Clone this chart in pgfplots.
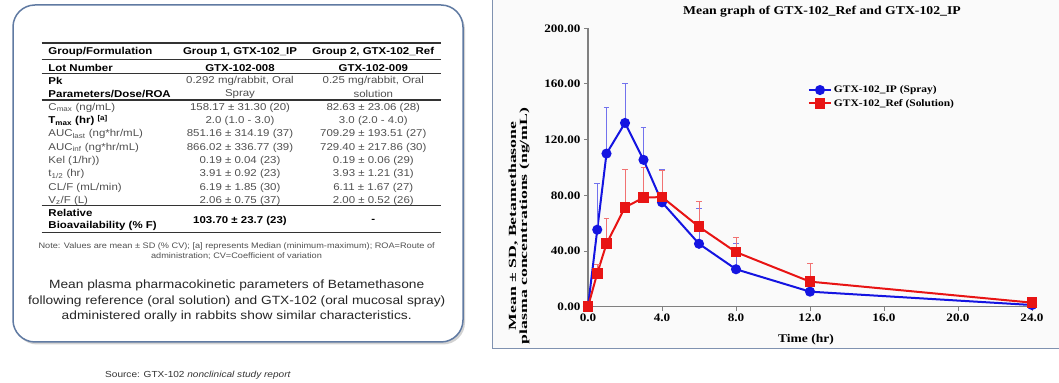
\documentclass[border=0pt]{standalone}
\usepackage{fontspec}
\usepackage{pgfplots}
\pgfplotsset{compat=1.18}
\usetikzlibrary{shadows}
\setmainfont{Liberation Sans}
\newfontfamily\serifS{Liberation Serif}[FakeStretch=1.15]
\newfontfamily\serifY{Liberation Serif}[FakeStretch=1.62]
\newfontfamily\sansS{Liberation Sans}[FakeStretch=1.15]
\definecolor{boxblue}{RGB}{96,122,162}
\definecolor{panelgray}{RGB}{128,146,176}
\definecolor{myblue}{RGB}{20,20,225}
\definecolor{myred}{RGB}{232,20,20}
\definecolor{txtgray}{RGB}{80,80,80}
\newcommand\fs[1]{\fontsize{#1}{#1}\selectfont}
\begin{document}
\begin{tikzpicture}
\useasboundingbox (0,0) rectangle (1059bp,383bp);
\fill[white] (0,0) rectangle (1059bp,383bp);
\begin{scope}[x=1bp,y=-1bp,shift={(0,383bp)}]
 % right panel
 \fill[black!2] (492,-5) rectangle (1065,349);
 \draw[panelgray, line width=1bp] (492,-5) rectangle (1065,349);
 % left box
 \draw[boxblue, line width=1.5bp, fill=white, rounded corners=22bp,
   drop shadow={shadow xshift=2bp, shadow yshift=-2.5bp, opacity=0.35}] (13,5) rectangle (463,342);
 % rules
 \foreach \yy in {59.3,73.3,100,205.7,232.7}
   \draw[black!80, line width=1.2bp] (41.7,\yy) -- (440.7,\yy);
 \draw[black!80, line width=1.8bp] (41.7,42.7) -- (440.7,42.7);
 % table text
 \begin{scope}[every node/.style={inner sep=0pt, font=\sansS\fs{10}}]
  \node[anchor=west, font=\sansS\bfseries\fs{10}] at (48.3,52.3) {Group/Formulation};
  \node[font=\sansS\bfseries\fs{10}] at (240,52.3) {Group 1, GTX-102\_IP};
  \node[font=\sansS\bfseries\fs{10}] at (373.3,52.3) {Group 2, GTX-102\_Ref};
  \node[anchor=west, font=\sansS\bfseries\fs{10}] at (48.3,67.7) {Lot Number};
  \node[font=\sansS\bfseries\fs{10}] at (240,67.7) {GTX-102-008};
  \node[font=\sansS\bfseries\fs{10}] at (373.3,67.7) {GTX-102-009};
  \node[anchor=west, font=\sansS\bfseries\fs{10}] at (48.3,80.7) {Pk};
  \node[anchor=west, font=\sansS\bfseries\fs{10}] at (48.3,94.3) {Parameters/Dose/ROA};
  \node[text=txtgray] at (240,80.7) {0.292 mg/rabbit, Oral};
  \node[text=txtgray] at (240,94.3) {Spray};
  \node[text=txtgray] at (373.3,80.7) {0.25 mg/rabbit, Oral};
  \node[text=txtgray] at (373.3,94.3) {solution};
  % rows
  \node[anchor=west, text=txtgray] at (48.3,107.7) {C\textsubscript{max} (ng/mL)};
  \node[text=txtgray] at (240,107.7) {158.17 ± 31.30 (20)};
  \node[text=txtgray] at (373.3,107.7) {82.63 ± 23.06 (28)};
  \node[anchor=west, font=\sansS\bfseries\fs{10}] at (48.3,120.7) {T\textsubscript{max} (hr) \textsuperscript{[a]}};
  \node[text=txtgray] at (240,120.7) {2.0 (1.0 - 3.0)};
  \node[text=txtgray] at (373.3,120.7) {3.0 (2.0 - 4.0)};
  \node[anchor=west, text=txtgray] at (48.3,134.3) {AUC\textsubscript{last} (ng*hr/mL)};
  \node[text=txtgray] at (240,134.3) {851.16 ± 314.19 (37)};
  \node[text=txtgray] at (373.3,134.3) {709.29 ± 193.51 (27)};
  \node[anchor=west, text=txtgray] at (48.3,147.7) {AUC\textsubscript{inf} (ng*hr/mL)};
  \node[text=txtgray] at (240,147.7) {866.02 ± 336.77 (39)};
  \node[text=txtgray] at (373.3,147.7) {729.40 ± 217.86 (30)};
  \node[anchor=west, text=txtgray] at (48.3,161) {Kel (1/hr))};
  \node[text=txtgray] at (240,161) {0.19 ± 0.04 (23)};
  \node[text=txtgray] at (373.3,161) {0.19 ± 0.06 (29)};
  \node[anchor=west, text=txtgray] at (48.3,174) {t\textsubscript{1/2} (hr)};
  \node[text=txtgray] at (240,174) {3.91 ± 0.92 (23)};
  \node[text=txtgray] at (373.3,174) {3.93 ± 1.21 (31)};
  \node[anchor=west, text=txtgray] at (48.3,187.7) {CL/F (mL/min)};
  \node[text=txtgray] at (240,187.7) {6.19 ± 1.85 (30)};
  \node[text=txtgray] at (373.3,187.7) {6.11 ± 1.67 (27)};
  \node[anchor=west, text=txtgray] at (48.3,200.7) {V\textsubscript{z}/F (L)};
  \node[text=txtgray] at (240,200.7) {2.06 ± 0.75 (37)};
  \node[text=txtgray] at (373.3,200.7) {2.00 ± 0.52 (26)};
  \node[anchor=west, font=\sansS\bfseries\fs{10}] at (48.3,213.3) {Relative};
  \node[anchor=west, font=\sansS\bfseries\fs{10}] at (48.3,226) {Bioavailability (\% F)};
  \node[font=\sansS\bfseries\fs{10}] at (240,221) {103.70 ± 23.7 (23)};
  \node[font=\sansS\bfseries\fs{10}] at (373.3,221) {-};
  % note
  \node[font=\sansS\fs{8}, text=txtgray] at (236.7,246) {Note: Values are mean ± SD (\% CV); [a] represents Median (minimum-maximum); ROA=Route of};
  \node[font=\sansS\fs{8}, text=txtgray] at (236.5,255.7) {administration; CV=Coefficient of variation};
  % caption
  \node[font=\sansS\fs{12}, text=black!85] at (236.7,285.7) {Mean plasma pharmacokinetic parameters of Betamethasone};
  \node[font=\sansS\fs{12}, text=black!85] at (236.7,301) {following reference (oral solution) and GTX-102 (oral mucosal spray)};
  \node[font=\sansS\fs{12}, text=black!85] at (236.7,316.7) {administered orally in rabbits show similar characteristics.};
  % source
  \node[anchor=west, font=\sansS\fs{8.8}, text=black!80] at (105,375) {Source: GTX-102 \textit{nonclinical study report}};
 \end{scope}
 % chart texts
 \node[font=\serifS\bfseries\fs{12}] at (822,11.7) {Mean graph of GTX-102\_Ref and GTX-102\_IP};
 \node[font=\serifS\bfseries\fs{11.8}] at (806,340) {Time (hr)};
 \node[font=\serifY\bfseries\fs{11}, rotate=90, align=center, inner sep=0pt] at (519,226)
   {Mean ± SD, Betamethasone\\plasma concentrations (ng/mL)};
\end{scope}
\begin{axis}[
  at={(588bp,76.3bp)}, anchor=south west, scale only axis,
  width=444bp, height=278.4bp,
  xmin=0, xmax=24, ymin=0, ymax=200,
  axis x line=bottom, axis y line=left,
  axis line style={-, draw=gray, line width=1.3bp},
  xtick={0,4,...,24}, ytick={0,40,...,200},
  tick align=outside, major tick length=4bp,
  tick style={gray, line width=1bp},
  /pgf/number format/assume math mode=true,
  ticklabel style={font=\serifS\bfseries\fs{11.5}},
  xticklabel style={/pgf/number format/fixed, /pgf/number format/fixed zerofill, /pgf/number format/precision=1},
  yticklabel style={/pgf/number format/fixed, /pgf/number format/fixed zerofill, /pgf/number format/precision=2},
  clip=false,
  legend cell align=left,
  legend style={draw=none, fill=none, font=\serifS\bfseries\fs{10}, at={(axis description cs:0.495,0.754)}, anchor=west, row sep=1bp, inner sep=0pt},
  legend image code/.code={\draw[mark repeat=2,mark phase=2,#1] plot coordinates {(0bp,0bp) (11bp,0bp) (22bp,0bp)};},
]
\addplot[myblue, line width=2bp, mark=*, mark size=4bp, mark options={solid},
  error bars/.cd, y dir=plus, y explicit, error mark=-,
  error bar style={myblue!60, line width=0.9bp},
  error mark options={rotate=90, myblue!60, mark size=2.8bp, line width=1bp}]
  coordinates {(0,0) +- (0,0) (0.5,55.3) +- (0,33.1) (1,110) +- (0,33.4) (2,132) +- (0,28.2)
   (3,105.5) +- (0,23.5) (4,75) +- (0,23.5) (6,45.2) +- (0,25.4) (8,26.9) +- (0,18.3)
   (12,10.8) +- (0,10.8) (24,1.2) +- (0,1.5)};
\addlegendentry{GTX-102\_IP (Spray)}
\addplot[myred, line width=2bp, mark=square*, mark size=4.3bp, mark options={solid},
  error bars/.cd, y dir=plus, y explicit, error mark=-,
  error bar style={myred!60, line width=0.9bp},
  error mark options={rotate=90, myred!60, mark size=2.8bp, line width=1bp}]
  coordinates {(0,0) +- (0,0) (0.5,24) +- (0,6) (1,45.2) +- (0,18.5) (2,71.4) +- (0,27.1)
   (3,78.3) +- (0,21.7) (4,78.8) +- (0,19) (6,57.4) +- (0,18.3) (8,39.2) +- (0,10.8)
   (12,18) +- (0,12.8) (24,2.9) +- (0,1.5)};
\addlegendentry{GTX-102\_Ref (Solution)}
\end{axis}
\end{tikzpicture}
\end{document}
